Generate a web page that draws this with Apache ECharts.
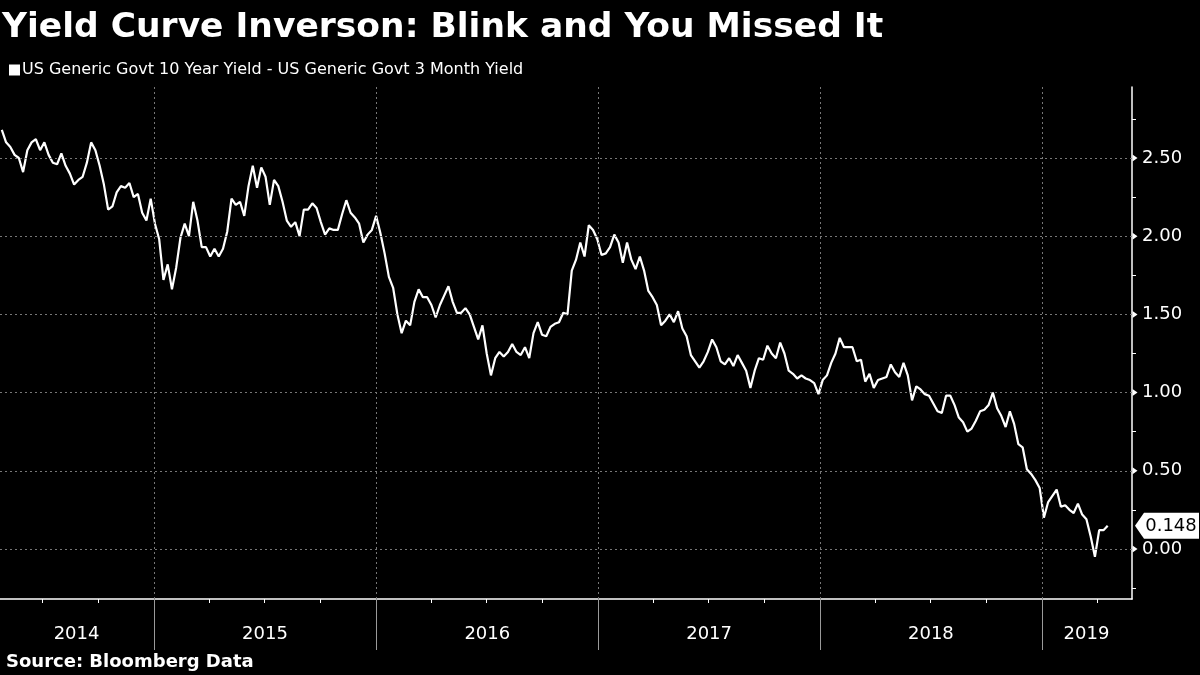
<!DOCTYPE html>
<html>
<head>
<meta charset="utf-8">
<script src="https://cdn.jsdelivr.net/npm/echarts@6/dist/echarts.min.js"></script>
<style>html,body{margin:0;padding:0;background:#000}#chart{width:1200px;height:675px}</style>
</head>
<body>
<div id="chart"></div>
<script>
const titleText = 'Yield Curve Inverson: Blink and You Missed It';
const sourceText = 'Source: Bloomberg Data';
const seriesName = 'US Generic Govt 10 Year Yield - US Generic Govt 3 Month Yield';

// weekly observations (Fridays), first one on this date
const firstWeek = '2014-04-25';
const v2014 = [2.68,2.60,2.57,2.52,2.50,2.41,2.55,2.60,2.62,2.55,2.60,2.52,2.47,2.46,2.53,2.45,2.40,2.33,2.36,2.38,2.47,2.60,2.55,2.45,2.33,2.17,2.19,2.28,2.32,2.31,2.34,2.25,2.27,2.15,2.10,2.24];
const v2015 = [2.08,1.98,1.72,1.82,1.66,1.80,1.99,2.08,2.00,2.22,2.10,1.93,1.93,1.87,1.92,1.87,1.92,2.03,2.24,2.20,2.22,2.13,2.32,2.45,2.31,2.44,2.38,2.20,2.36,2.32,2.22,2.10,2.06,2.09,2.00,2.17,2.17,2.21,2.18,2.09,2.01,2.05,2.04,2.04,2.14,2.23,2.15,2.12,2.08,1.96,2.01,2.04];
const v2016 = [2.13,2.02,1.89,1.74,1.67,1.50,1.38,1.46,1.43,1.58,1.66,1.61,1.61,1.56,1.48,1.56,1.62,1.68,1.58,1.51,1.51,1.54,1.50,1.42,1.34,1.43,1.25,1.11,1.22,1.26,1.23,1.26,1.31,1.26,1.24,1.29,1.22,1.38,1.45,1.37,1.36,1.42,1.44,1.45,1.51,1.50,1.78,1.85,1.96,1.87,2.07,2.04,1.98];
const v2017 = [1.88,1.89,1.93,2.01,1.96,1.83,1.96,1.85,1.79,1.87,1.78,1.65,1.61,1.56,1.43,1.46,1.50,1.45,1.52,1.41,1.36,1.24,1.20,1.16,1.20,1.26,1.34,1.29,1.20,1.18,1.22,1.17,1.24,1.19,1.14,1.03,1.14,1.22,1.21,1.30,1.25,1.22,1.32,1.25,1.14,1.12,1.09,1.11,1.09,1.08,1.06,0.99];
const v2018 = [1.08,1.11,1.19,1.25,1.35,1.29,1.29,1.29,1.20,1.21,1.07,1.12,1.03,1.08,1.09,1.10,1.18,1.13,1.10,1.19,1.11,0.95,1.04,1.02,0.99,0.98,0.93,0.88,0.87,0.98,0.98,0.92,0.84,0.81,0.75,0.77,0.82,0.88,0.89,0.92,1.00,0.90,0.85,0.78,0.88,0.80,0.67,0.65,0.51,0.48,0.44,0.39];
const v2019 = [0.20,0.30,0.34,0.38,0.27,0.28,0.25,0.23,0.29,0.22,0.19,0.08,-0.05,0.12,0.12,0.148];
const lastValue = 0.148;

const xMin = '2014-04-22';
const xMax = '2019-05-29';
const yMin = -0.32;
const yMax = 2.954;
const yearTicks = ['2015-01-01','2016-01-01','2017-01-01','2018-01-01','2019-01-01'];
const quarterTicks = ['2014-07-01','2014-10-01','2015-04-01','2015-07-01','2015-10-01','2016-04-01','2016-07-01','2016-10-01','2017-04-01','2017-07-01','2017-10-01','2018-04-01','2018-07-01','2018-10-01','2019-04-01'];
const yearLabelDates = ['2014-08-26','2015-07-02','2016-07-02','2017-07-02','2018-07-02','2019-03-15'];
const yLabelValues = [0, 0.5, 1, 1.5, 2, 2.5];
const yMinorTicks = [-0.25, 0.25, 0.75, 1.25, 1.75, 2.25, 2.75];

const ts = s => { const p = s.split('-').map(Number); return Date.UTC(p[0], p[1] - 1, p[2]); };
const WEEK = 7 * 86400000;
const values = [].concat(v2014, v2015, v2016, v2017, v2018, v2019);
const t0 = ts(firstWeek);
const lineData = values.map((v, i) => [t0 + i * WEEK, v]);

const FONT = 'DejaVu Sans';
const chart = echarts.init(document.getElementById('chart'));
chart.setOption({
  backgroundColor: '#000',
  animation: false,
  textStyle: { fontFamily: FONT },
  title: [
    { text: titleText, left: 2, top: 11, padding: 0,
      textStyle: { color: '#fff', fontSize: 34.5, fontWeight: 'bold', fontFamily: FONT } },
    { text: sourceText, left: 6, top: 653, padding: 0,
      textStyle: { color: '#fff', fontSize: 18, fontWeight: 'bold', fontFamily: FONT } }
  ],
  legend: {
    data: [seriesName], left: 9, top: 62, padding: 0, icon: 'rect',
    itemWidth: 11, itemHeight: 11, itemGap: 0, selectedMode: false,
    textStyle: { color: '#fff', fontSize: 16, fontFamily: FONT, padding: [0, 0, 0, -3] }
  },
  grid: { left: 0, right: 68, top: 87, bottom: 76, containLabel: false },
  xAxis: [
    {
      type: 'value', min: ts(xMin), max: ts(xMax), scale: true,
      axisLine: { show: true, onZero: false, lineStyle: { color: '#fff', width: 1.5 } },
      axisTick: { show: true, customValues: quarterTicks.map(ts), length: 4, lineStyle: { color: '#fff' } },
      axisLabel: { show: true, customValues: yearLabelDates.map(ts),
        formatter: v => String(new Date(v).getUTCFullYear()),
        color: '#fff', fontSize: 18, margin: 26, fontFamily: FONT },
      splitLine: { show: false }
    },
    {
      type: 'value', min: ts(xMin), max: ts(xMax), scale: true, position: 'bottom',
      axisLine: { show: false, onZero: false },
      axisTick: { show: true, customValues: yearTicks.map(ts), length: 51, lineStyle: { color: '#9a9a9a', width: 1 } },
      axisLabel: { show: false },
      splitLine: { show: false }
    }
  ],
  yAxis: {
    type: 'value', position: 'right', min: yMin, max: yMax,
    axisLine: { show: true, onZero: false, lineStyle: { color: '#fff', width: 1.5 } },
    axisTick: { show: true, customValues: yMinorTicks, length: 4, lineStyle: { color: '#fff' } },
    axisLabel: { show: true, customValues: yLabelValues, formatter: v => Number(v).toFixed(2),
      color: '#fff', fontSize: 18, margin: 10, fontFamily: FONT },
    splitLine: { show: false }
  },
  series: [
    {
      name: 'grid', type: 'scatter', z: 1, silent: true, clip: false,
      data: yLabelValues.map(v => [ts(xMax), v]),
      symbol: 'path://M0,0L6,3.5L0,7Z', symbolSize: [5, 7], symbolOffset: [3, 0],
      itemStyle: { color: '#fff', opacity: 1 },
      markLine: {
        silent: true, symbol: ['none', 'none'], label: { show: false },
        lineStyle: { color: '#777', type: [2, 3], width: 1, opacity: 1 },
        data: yLabelValues.map(v => ({ yAxis: v })).concat(yearTicks.map(d => ({ xAxis: ts(d) })))
      }
    },
    {
      name: seriesName, type: 'line', z: 3, data: lineData,
      showSymbol: false, symbol: 'none', color: '#fff',
      lineStyle: { color: '#fff', width: 2.2 }
    },
    {
      name: 'last', type: 'scatter', z: 5, silent: true, clip: false,
      data: [[ts(xMax), lastValue]],
      symbol: 'path://M0,13L9,0L64,0L64,26L9,26Z', symbolSize: [64, 26], symbolOffset: [35, 0],
      itemStyle: { color: '#fff', opacity: 1 },
      label: { show: true, position: 'inside', formatter: () => lastValue.toFixed(3),
        color: '#000', fontSize: 18, fontFamily: FONT, offset: [4, 1] }
    }
  ]
});
</script>
</body>
</html>
